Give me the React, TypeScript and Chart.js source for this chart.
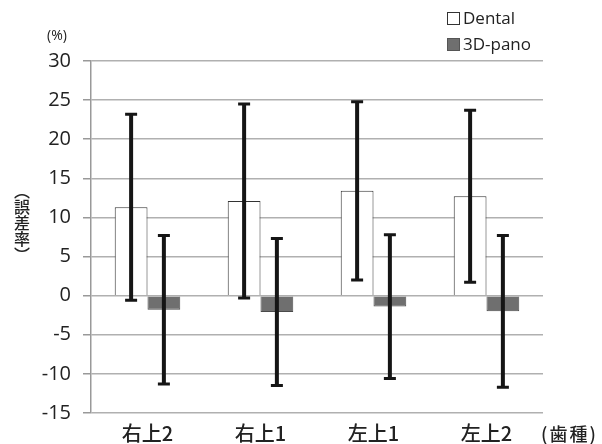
import React, { useEffect, useRef } from "react";
import { Chart, registerables } from "chart.js";
Chart.register(...registerables);

const categories = ["右上2", "右上1", "左上1", "左上2"];
const dentalMean = [11.3, 12.1, 13.4, 12.7];
const dentalSD = [11.9, 12.4, 11.4, 11.0];
const panoMean = [-1.8, -2.1, -1.4, -2.0];
const panoSD = [9.5, 9.4, 9.2, 9.7];
const yTicks = [30, 25, 20, 15, 10, 5, 0, -5, -10, -15];
const yTitle = "（誤差率）";

const JP = '"Noto Sans CJK JP", "Noto Sans", sans-serif';
const LAT = '"Open Sans", "Noto Sans", sans-serif';

const errorBars = {
  id: "errorBars",
  afterDatasetsDraw(chart: any) {
    const ctx = chart.ctx;
    const y = chart.scales.y;
    const sds = [dentalSD, panoSD];
    chart.data.datasets.forEach((ds: any, di: number) => {
      const meta = chart.getDatasetMeta(di);
      meta.data.forEach((bar: any, i: number) => {
        const v = ds.data[i];
        const sd = sds[di][i];
        const yt = y.getPixelForValue(v + sd);
        const yb = y.getPixelForValue(v - sd);
        const x = bar.x;
        ctx.save();
        ctx.strokeStyle = "#151515";
        ctx.lineWidth = 4;
        ctx.beginPath();
        ctx.moveTo(x, yt);
        ctx.lineTo(x, yb);
        ctx.stroke();
        ctx.lineWidth = 3;
        ctx.beginPath();
        ctx.moveTo(x - 6, yt);
        ctx.lineTo(x + 6, yt);
        ctx.moveTo(x - 6, yb);
        ctx.lineTo(x + 6, yb);
        ctx.stroke();
        ctx.restore();
      });
    });
  },
};

const extras = {
  id: "extras",
  afterDraw(chart: any) {
    const ctx = chart.ctx;
    ctx.save();
    ctx.setTransform(1, 0, 0, 1, 0, 0);
    // legend
    ctx.lineWidth = 1;
    ctx.strokeStyle = "#333";
    ctx.fillStyle = "#ffffff";
    ctx.fillRect(447, 12, 12, 12);
    ctx.strokeRect(447.5, 12.5, 12, 12);
    ctx.fillStyle = "#6f6f6f";
    ctx.fillRect(447, 38, 12, 12);
    ctx.strokeStyle = "#555";
    ctx.strokeRect(447.5, 38.5, 12, 12);
    ctx.fillStyle = "#222";
    ctx.font = `17px ${LAT}`;
    ctx.textAlign = "left";
    ctx.textBaseline = "middle";
    ctx.fillText(chart.data.datasets[0].label, 463, 19);
    ctx.fillText(chart.data.datasets[1].label, 463, 45);
    // (%)
    ctx.font = `14px ${LAT}`;
    ctx.textAlign = "center";
    ctx.fillText("(%)", 57, 36);
    // x unit
    ctx.textAlign = "left";
    ctx.font = `500 18px ${JP}`;
    (ctx as any).letterSpacing = "2px";
    ctx.fillText("(歯種)", 541, 434);
    (ctx as any).letterSpacing = "0px";
    ctx.restore();
  },
};

export default function App() {
  const ref = useRef<HTMLCanvasElement>(null);
  useEffect(() => {
    const chart = new Chart(ref.current!, {
      type: "bar",
      data: {
        labels: categories,
        datasets: [
          {
            label: "Dental",
            data: dentalMean,
            backgroundColor: "#ffffff",
            borderColor: "#333333",
            borderWidth: 1,
          },
          {
            label: "3D-pano",
            data: panoMean,
            backgroundColor: "#6f6f6f",
            borderColor: "#4a4a4a",
            borderWidth: 1,
          },
        ],
      },
      options: {
        animation: false,
        responsive: false,
        layout: { padding: { top: 61, right: 59, left: 0, bottom: 0 } },
        plugins: { legend: { display: false }, tooltip: { enabled: false } },
        datasets: { bar: { categoryPercentage: 0.58, barPercentage: 1.0 } },
        scales: {
          x: {
            grid: { display: false, drawTicks: false },
            border: { display: false },
            ticks: { color: "#222", font: { family: JP, size: 20, weight: "500" }, padding: 8 },
            afterFit(scale: any) {
              scale.height = 31;
            },
          },
          y: {
            min: -15,
            max: 30,
            afterBuildTicks(scale: any) {
              scale.ticks = yTicks.map((v) => ({ value: v }));
            },
            grid: { color: "#b0b0b0", lineWidth: 1.5, tickLength: 8, tickColor: "#999" },
            border: { display: true, color: "#999", width: 1.5 },
            ticks: { color: "#222", font: { family: LAT, size: 20 }, padding: 12 },
            afterFit(scale: any) {
              scale.width = 91;
            },
          },
        },
      },
      plugins: [errorBars, extras],
    });
    return () => chart.destroy();
  }, []);
  return (
    <div style={{ position: "fixed", left: 0, top: 0, width: 602, height: 444, background: "#fff" }}>
      <canvas ref={ref} width={602} height={444} style={{ width: 602, height: 444, display: "block" }} />
      <div
        style={{
          position: "absolute",
          left: 14,
          top: 183,
          writingMode: "vertical-rl",
          fontFamily: JP,
          fontSize: 16,
          fontWeight: 500,
          lineHeight: 1,
          color: "#222",
        }}
      >
        {yTitle}
      </div>
    </div>
  );
}
